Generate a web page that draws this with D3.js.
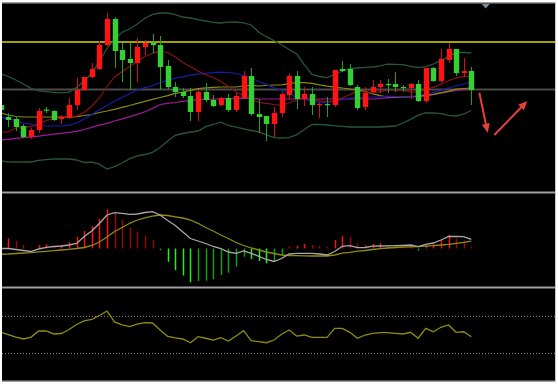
<!DOCTYPE html>
<html><head><meta charset="utf-8">
<script src="https://cdn.jsdelivr.net/npm/d3@7"></script>
<style>html,body{margin:0;padding:0;background:#fff;}svg{display:block}</style>
</head><body><svg id="c" width="558" height="384"></svg>
<script>
// ---- candle data (index 0..62) ----
const openP  = [95,83,81,74,63,70,90.5,89,81,82,95,110,123,131,155,181,150,141,137,153,157,155,134,113,108,104,88,108,100,95,102,90,102,124,86,84,76,87,105,124,101,106,95,96,95,131,131,113,93,108,113,116,116,113,112,116,99,132,119,140,151,127,129];
const highP  = [97,87,83,76,72,92,93,90,85,102,122,123,137,159,187,183,157,157,162,160,166,164,140,118,112,112,111,117,105,103,106,107,129,132,101,84,93,108,127,129,113,113,97,103,130,139,136,115,113,120,120,121,128,115,117,120,132,133,151,157,151,142,133];
const lowP   = [88,73,69,62,61,67,87,79,76,81,90,109,122,130,154,132,118,110,118,145,147,110,111,103,102,79,79,98,93,94,88,88,101,84,67,59,63,83,100,91,94,85,82,83,93,128,114,90,90,107,107,107,108,108,101,98,97,118,117,137,124,123,95];
const closeP = [90,80,73,63,70,89,89.5,80,83,95,110,123,131,155,181,149,140,137,153,157,155,133,113,108,104,88,108,100,94,102,90,104,124,86,83,76,87,106,124,101,106,95,96,95,130,129,115,92,107,113,116,115,113,112,116,99,132,119,141,151,127,129,110];
// ---- overlays ----
const bollUpper = [126,123.5,120,116,111.7,109.2,108.4,107.6,107.1,107.9,112.6,119.2,126.5,139,151.5,161,167.8,171,176,181.8,185.7,187,187,185.4,183,182,180.4,179,177.6,177,177.8,178,177.2,175,167.7,163.3,159.5,155.2,150.5,146,135.4,125.5,123.5,122.4,125.5,129,131.3,132,132.7,133,134.2,135.8,135.7,135.3,133.7,132.3,133.4,136,139.3,143.3,147.5,147.6,147];
const bollLower = [39,38.2,38,38,38,39.6,40.4,41,41,41,40,37.5,37.8,35.8,31,33.4,37,41.3,44.2,45.5,47.7,52.4,59,64.7,66.5,68,69,73.4,75.5,77.8,74.5,72.8,71.1,69.5,68.2,65.2,62.3,62,62.4,65.3,70.5,75.5,75.6,75,74.2,73.7,73,73,73,73,73,73.5,74,77,80.6,84.8,87,87,86.3,84.6,84,86,89.5];
const ma5  = [68,68,72,72.5,73.3,76,79.5,81.5,83,83,84,87.5,94,102,113.5,123,128.5,133.5,138.5,143.5,146.7,148.8,147.5,143,137.5,133.3,129,125.2,122.5,118.5,113.5,108,104.2,101,97.5,96.7,95.5,94.5,97,100,102,101.2,99.2,98.5,99.5,102,105.5,109,108,107,108.7,109.5,110,109.5,108.2,108,110.3,112.6,115.8,119.2,122.2,123.4,124];
const ma20 = [83,81.3,79.2,77,75.6,74.5,74,74,74,74.8,77,81,85.4,90.2,94.5,99,102.6,106.2,110,112.4,114.2,117.4,119.7,121.8,123.2,124.8,125.8,126.7,127.4,127.9,127.5,126.5,124.5,122.2,118.5,115.4,112.2,109.5,106.3,102.5,100.7,98.6,97.7,97,99.1,100.7,102,102,102.8,103,103.2,103.8,103.5,103,103.4,104.6,106,107.7,109.7,112,114,116,118];
const ma30 = [87,85,83.5,83,83,83,83,83,83,83,83.3,84.5,85.5,87.5,89,90.7,92.6,94.5,96.7,98.7,100.6,102.5,104.4,106.6,108,109.7,111.4,112.2,112.7,113,113,113,114,114.7,114,114.5,115,115.2,116.3,117.5,117.4,116.7,115.1,113.9,112.9,112,111,110,108.6,106.1,104.4,103,103,103,103.4,103.7,104.6,105.7,107.4,108.6,110.8,111.5,112];
const ma60 = [60,60.7,61.6,62.4,63.1,63.9,64.8,65.8,66.7,67.6,68.7,70.5,72.7,74.8,76.7,79,81.2,83.4,85.6,88.2,91.6,95.5,96.7,97.5,98.6,99.5,100.4,100.6,100.8,101,101.2,101.5,101.8,101.5,101.1,101,101,101,101,101,101,101,101,101,101,101,101,101,101,101,101.5,102.3,102.7,103,103.2,103.7,104.6,105.5,106.8,108.3,109.5,110.4,111];
const levels = [158, 110.5];
// ---- MACD ----
const dif = [0,0,-0.1,-0.2,-0.3,-0.05,0.12,0.2,0.25,0.35,0.5,1.2,1.75,2.5,3.35,3.58,3.52,3.42,3.45,3.6,3.68,3.35,2.8,2.3,1.65,1.0,0.75,0.5,0.2,0,-0.35,-0.48,-0.25,-0.48,-0.78,-1.1,-1.3,-1.0,-0.55,-0.48,-0.48,-0.48,-0.55,-0.65,-0.3,0.22,0.28,0.08,0.1,0.23,0.25,0.27,0.29,0.32,0.35,0.18,0.42,0.55,0.85,1.22,1.2,1.18,0.92];
const dea = [-0.58,-0.55,-0.5,-0.45,-0.42,-0.33,-0.28,-0.22,-0.15,-0.08,0,0.1,0.3,0.65,1.15,1.7,2.1,2.52,2.85,3.07,3.23,3.35,3.3,3.17,3.05,2.85,2.52,2.1,1.75,1.35,1.0,0.6,0.3,0.05,-0.15,-0.35,-0.5,-0.65,-0.71,-0.72,-0.73,-0.75,-0.75,-0.75,-0.65,-0.47,-0.39,-0.27,-0.2,-0.1,-0.02,0.05,0.1,0.15,0.17,0.19,0.24,0.29,0.35,0.42,0.52,0.62,0.73];
const macdHist = [0,1.02,0.78,0.35,0.08,0.35,0.42,0.25,0.35,0.62,1.18,1.75,2.25,2.95,3.92,3.52,2.85,2.08,1.68,1.28,0.85,-0.18,-1.32,-2.15,-2.7,-3.38,-3.25,-3.22,-3.08,-2.65,-2.42,-1.82,-0.82,-1.05,-1.25,-1.48,-1.32,-0.65,0.25,0.28,0.45,0.35,0.25,0.18,0.85,1.25,1.12,0.52,0.4,0.45,0.52,0.35,0.28,0.18,0.28,-0.22,0.35,0.42,0.85,1.35,1.02,0.78,0.18];
// ---- RSI ----
const rsi = [52.9,50.5,47.8,45.7,47.8,54.3,54.3,51.1,51.6,55.9,61.3,65.1,66.7,71,75.8,64,60.8,59.1,61.8,63.4,62.9,55.4,48.4,46.8,45.7,41.7,48.2,46.5,44.6,47.1,43.5,48.9,54.6,43.9,42.8,41.7,44.6,50.8,55.4,48.9,50,47.5,47.5,47.5,57.2,57.2,52.9,46.5,50,51.8,52.5,52.5,51.8,51.1,52.9,46.5,57.2,53.5,58.3,60.8,52.9,53.5,48.2];
const rsiLevels = [70, 30];
// ---- annotations (index, price) ----
const arrows = [
  {x1:63.06, p1:107.3, x2:64.16, p2:67.3},
  {x1:65.03, p1:65,    x2:69.38, p2:99}
];
const markerIndex = 63.9;

const svg = d3.select('#c');
const W = 558, H = 384;
const L = 2, R = 555;
const panels = {main:[3,191.5], macd:[193.5,286.5], rsi:[288.5,380.5]};

const x  = d3.scaleLinear().domain([0, 62]).range([0.7, 471.3]);
const yP = d3.scaleLinear().domain([8, 198]).range([192, 2]);
const yM = d3.scaleLinear().domain([-4, 4]).range([288.5, 208.5]);
const yR = d3.scaleLinear().domain([0, 100]).range([381.5, 288.5]);

svg.append('rect').attr('width',W).attr('height',H).attr('fill','#fff');
svg.append('rect').attr('x',L).attr('y',2).attr('width',R-L+1).attr('height',380).attr('fill','#000');

const defs = svg.append('defs');
Object.entries(panels).forEach(([k,[a,b]])=>{
  defs.append('clipPath').attr('id','clip-'+k).append('rect')
    .attr('x',L).attr('y',a).attr('width',R-L).attr('height',b-a);
});

// ---------- main panel ----------
const gMain = svg.append('g').attr('clip-path','url(#clip-main)');
// horizontal levels
gMain.selectAll('line.lvl').data(levels).join('line')
  .attr('x1',L).attr('x2',R+1)
  .attr('y1',d=>yP(d)).attr('y2',d=>yP(d))
  .attr('stroke',(d,i)=> i===0 ? '#d8d800' : '#4a4a4a')
  .attr('stroke-width',(d,i)=> i===0 ? 1.6 : 2);

const idx = d3.range(openP.length);
const lineGen = arr => d3.line().x((d,i)=>x(i)).y(d=>yP(d))(arr);
const overlays = [
  {data:bollUpper, color:'#25573a', w:1.3},
  {data:bollLower, color:'#25573a', w:1.3},
  {data:ma60, color:'#a0189a', w:1.2},
  {data:ma30, color:'#8c8a10', w:1.2},
  {data:ma20, color:'#1a1aa8', w:1.2},
  {data:ma5,  color:'#8a1414', w:1.2}
];
gMain.selectAll('path.ov').data(overlays).join('path')
  .attr('d',d=>lineGen(d.data)).attr('fill','none')
  .attr('stroke',d=>d.color).attr('stroke-width',d=>d.w);

const up = i => closeP[i] >= openP[i];
const bodyW = 5.4;
const candles = gMain.selectAll('g.cd').data(idx).join('g');
candles.append('line')
  .attr('x1',i=>Math.round(x(i))+0.5).attr('x2',i=>Math.round(x(i))+0.5)
  .attr('y1',i=>yP(highP[i])).attr('y2',i=>yP(lowP[i]))
  .attr('stroke',i=> up(i) ? '#d01212' : '#22a022').attr('stroke-width',1);
candles.append('rect')
  .attr('x',i=>Math.round(x(i))+0.5-bodyW/2)
  .attr('width',bodyW)
  .attr('y',i=>yP(Math.max(openP[i],closeP[i])))
  .attr('height',i=>Math.max(1.2, Math.abs(yP(openP[i])-yP(closeP[i]))))
  .attr('fill',i=> up(i) ? '#ff1414' : '#35d035');

// arrows
arrows.forEach(a=>{
  const X1=x(a.x1), Y1=yP(a.p1), X2=x(a.x2), Y2=yP(a.p2);
  const dx=X2-X1, dy=Y2-Y1, len=Math.hypot(dx,dy), ux=dx/len, uy=dy/len;
  const hl=9, hw=4;
  const bx=X2-ux*hl, by=Y2-uy*hl;
  gMain.append('line').attr('x1',X1).attr('y1',Y1).attr('x2',bx+ux*1).attr('y2',by+uy*1)
    .attr('stroke','#e8403c').attr('stroke-width',2);
  gMain.append('path')
    .attr('d',`M${X2},${Y2}L${bx-uy*hw},${by+ux*hw}L${bx+uy*hw},${by-ux*hw}Z`)
    .attr('fill','#e8403c');
});

// top marker
const mx = x(markerIndex);
svg.append('path').attr('d',`M${mx-4},4L${mx+4},4L${mx},8.5Z`).attr('fill','#7a8c9e');

// ---------- MACD panel ----------
const gM = svg.append('g').attr('clip-path','url(#clip-macd)');
gM.selectAll('rect.h').data(macdHist).join('rect')
  .attr('x',(d,i)=>Math.round(x(i))-0.25)
  .attr('width',1.5)
  .attr('y',d=>Math.min(yM(0),yM(d)))
  .attr('height',d=>Math.abs(yM(d)-yM(0)))
  .attr('fill',(d,i)=>{
    const prev = i>0 ? macdHist[i-1] : 0;
    const grow = Math.abs(d) > Math.abs(prev);
    if (d>=0) return grow ? '#ff1010' : '#960808';
    return grow ? '#22ee22' : '#11a011';
  });
const lineM = arr => d3.line().x((d,i)=>x(i)).y(d=>yM(d))(arr);
gM.append('path').attr('d',lineM(dea)).attr('fill','none').attr('stroke','#8f8c10').attr('stroke-width',1.3);
gM.append('path').attr('d',lineM(dif)).attr('fill','none').attr('stroke','#a8a8a8').attr('stroke-width',1.3);

// ---------- RSI panel ----------
const gR = svg.append('g').attr('clip-path','url(#clip-rsi)');
gR.selectAll('line.rl').data(rsiLevels).join('line')
  .attr('x1',L).attr('x2',R+1).attr('y1',d=>yR(d)).attr('y2',d=>yR(d))
  .attr('stroke','#8a8a8a').attr('stroke-width',1).attr('stroke-dasharray','1,2');
gR.append('path').attr('d',d3.line().x((d,i)=>x(i)).y(d=>yR(d))(rsi))
  .attr('fill','none').attr('stroke','#8f8c10').attr('stroke-width',1.3);

// ---------- frame ----------
const sepY = [2.8, 192.5, 287.5, 381.3];
svg.selectAll('line.sep').data(sepY).join('line')
  .attr('x1',L).attr('x2',R+1).attr('y1',d=>d).attr('y2',d=>d)
  .attr('stroke','#a0a0a0').attr('stroke-width',(d,i)=> (i===0||i===3)?1.6:2);
svg.append('line').attr('x1',555.5).attr('x2',555.5).attr('y1',2).attr('y2',382)
  .attr('stroke','#c8c8c8').attr('stroke-width',1);
</script>
</body></html>
